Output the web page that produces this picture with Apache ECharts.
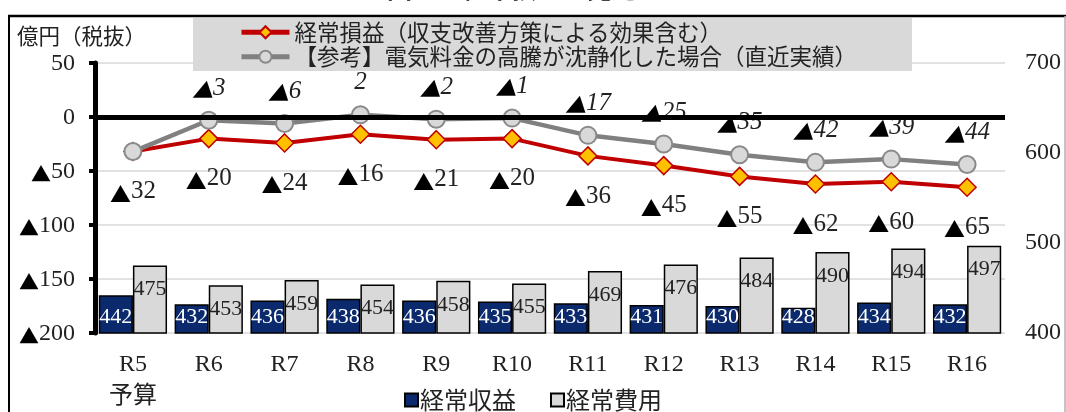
<!DOCTYPE html>
<html>
<head>
<meta charset="utf-8">
<script src="https://cdn.jsdelivr.net/npm/echarts@6/dist/echarts.min.js"></script>
<style>
  html, body { margin: 0; padding: 0; background: #fff; }
  #chart { width: 1066px; height: 412px; }
</style>
</head>
<body>
<div id="chart"></div>
<script>
// Fiscal years (R5 budget through R16)
const categories = ['R5\n予算', 'R6', 'R7', 'R8', 'R9', 'R10', 'R11', 'R12', 'R13', 'R14', 'R15', 'R16'];
// Ordinary revenue / expenses (億円, right axis)
const revenue = [442, 432, 436, 438, 436, 435, 433, 431, 430, 428, 434, 432];
const expense = [475, 453, 459, 454, 458, 455, 469, 476, 484, 490, 494, 497];
// Ordinary profit incl. improvement measures (left axis)
const profit = [-32, -20, -24, -16, -21, -20, -36, -45, -55, -62, -60, -65];
// Reference case: electricity prices settle (recent actuals)
const reference = [-32, -3, -6, 2, -2, -1, -17, -25, -35, -42, -39, -44];

const seriesNames = {
  revenue: '経常収益',
  expense: '経常費用',
  profit: '経常損益（収支改善方策による効果含む）',
  reference: '【参考】電気料金の高騰が沈静化した場合（直近実績）'
};

const SERIF = '"Liberation Serif", "Noto Sans CJK JP", serif';
const CJK = '"Noto Sans CJK JP", sans-serif';

// negative values are written with a leading ▲
function tri(v) {
  return v < 0 ? '{t|▲}{n|' + Math.abs(v) + '}' : '{n|' + v + '}';
}

function richStyle(size, italic) {
  const st = italic ? 'italic' : 'normal';
  return {
    t: { fontFamily: CJK, fontSize: size - 4, color: '#000', fontStyle: st, verticalAlign: 'bottom', lineHeight: size + 2 },
    n: { fontFamily: SERIF, fontSize: size, color: '#222', fontStyle: st, verticalAlign: 'bottom', lineHeight: size + 2 }
  };
}

const chart = echarts.init(document.getElementById('chart'), null, { renderer: 'canvas' });

const option = {
  animation: false,
  backgroundColor: '#fff',
  textStyle: { fontFamily: SERIF },
  grid: { left: 95, right: 61, top: 63, bottom: 79, containLabel: false, outerBoundsMode: 'none' },
  legend: [
    {
      data: [seriesNames.profit, seriesNames.reference],
      orient: 'vertical',
      left: 193,
      top: 18,
      width: 720,
      itemWidth: 48,
      itemHeight: 15,
      itemGap: 2,
      padding: [3, 55, 3, 46],
      backgroundColor: '#d9d9d9',
      lineStyle: { width: 5 },
      textStyle: { fontFamily: CJK, fontSize: 22.5, color: '#222' },
      z: 10
    },
    {
      data: [seriesNames.revenue, seriesNames.expense],
      orient: 'horizontal',
      left: 'center',
      top: 383,
      icon: 'rect',
      itemWidth: 13,
      itemHeight: 13,
      itemGap: 34,
      textStyle: { fontFamily: CJK, fontSize: 24, color: '#222', padding: [0, 0, 0, -3] }
    }
  ],
  xAxis: {
    type: 'category',
    data: categories,
    axisLine: { show: false },
    axisTick: { show: false },
    axisLabel: {
      margin: 16,
      fontFamily: SERIF,
      fontSize: 24,
      lineHeight: 32,
      color: '#222'
    }
  },
  yAxis: [
    {
      type: 'value',
      min: -200,
      max: 50,
      interval: 50,
      position: 'left',
      axisLine: { show: true, lineStyle: { color: '#000', width: 5 } },
      axisTick: { show: true, length: 6, lineStyle: { color: '#000', width: 4 } },
      splitLine: { show: true, lineStyle: { color: '#d9d9d9', width: 1.5 } },
      axisLabel: { margin: 20, formatter: tri, rich: richStyle(24, false) }
    },
    {
      type: 'value',
      min: 400,
      max: 700,
      interval: 100,
      position: 'right',
      axisLine: { show: false },
      axisTick: { show: false },
      splitLine: { show: false },
      axisLabel: { margin: 20, fontFamily: SERIF, fontSize: 24, color: '#222' }
    }
  ],
  series: [
    {
      name: seriesNames.revenue,
      type: 'bar',
      yAxisIndex: 1,
      data: revenue,
      barGap: '0%',
      barCategoryGap: '10%',
      itemStyle: { color: '#0b2a6e', borderColor: '#000', borderWidth: 1.5 },
      label: {
        show: true,
        position: 'insideBottom',
        distance: 6,
        fontFamily: SERIF,
        fontSize: 22,
        color: '#fff'
      }
    },
    {
      name: seriesNames.expense,
      type: 'bar',
      yAxisIndex: 1,
      data: expense,
      itemStyle: { color: '#d9d9d9', borderColor: '#000', borderWidth: 1.5 },
      label: {
        show: true,
        position: 'insideTop',
        distance: 13,
        fontFamily: SERIF,
        fontSize: 22,
        color: '#222'
      }
    },
    {
      name: seriesNames.profit,
      type: 'line',
      yAxisIndex: 0,
      data: profit,
      symbol: 'diamond',
      symbolSize: 18,
      lineStyle: { color: '#c00000', width: 4 },
      itemStyle: { color: '#ffc000', borderColor: '#c00000', borderWidth: 1.5 },
      label: {
        show: true,
        position: 'bottom',
        distance: 16,
        formatter: p => tri(p.value),
        rich: richStyle(25, false)
      },
      markLine: {
        silent: true,
        symbol: 'none',
        label: { show: false },
        lineStyle: { color: '#000', width: 5, type: 'solid' },
        data: [{ yAxis: 0 }]
      },
      z: 3
    },
    {
      name: seriesNames.reference,
      type: 'line',
      yAxisIndex: 0,
      data: reference.map((v, i) => (i === 0 ? { value: v, label: { show: false } } : v)),
      symbol: 'circle',
      symbolSize: 17,
      lineStyle: { color: '#808080', width: 4.5 },
      itemStyle: { color: '#d9d9d9', borderColor: '#8a8a8a', borderWidth: 2 },
      label: {
        show: true,
        position: 'top',
        distance: 10,
        formatter: p => tri(p.value),
        rich: richStyle(25, true)
      },
      z: 4
    }
  ],
  graphic: [
    // heading, mostly above the visible area
    {
      type: 'text',
      x: 362,
      y: -12,
      silent: true,
      style: {
        text: '（図　　経常損益の見通し）',
        font: 'bold 25px "Noto Sans CJK JP"',
        fill: '#000',
        verticalAlign: 'middle'
      }
    },
    // unit caption
    {
      type: 'text',
      x: 17,
      y: 36,
      silent: true,
      style: {
        text: '億円（税抜）',
        font: '21.5px "Noto Sans CJK JP"',
        fill: '#222',
        verticalAlign: 'middle'
      }
    },
    // chart frame
    { type: 'line', silent: true, shape: { x1: 8, y1: 16, x2: 1066, y2: 16 }, style: { stroke: '#000', lineWidth: 2.5 } },
    { type: 'line', silent: true, shape: { x1: 9, y1: 16, x2: 9, y2: 412 }, style: { stroke: '#000', lineWidth: 2 } },
    { type: 'line', silent: true, shape: { x1: 1065, y1: 16, x2: 1065, y2: 412 }, style: { stroke: '#b0b0b0', lineWidth: 1.5 } }
  ]
};

chart.setOption(option);
</script>
</body>
</html>
